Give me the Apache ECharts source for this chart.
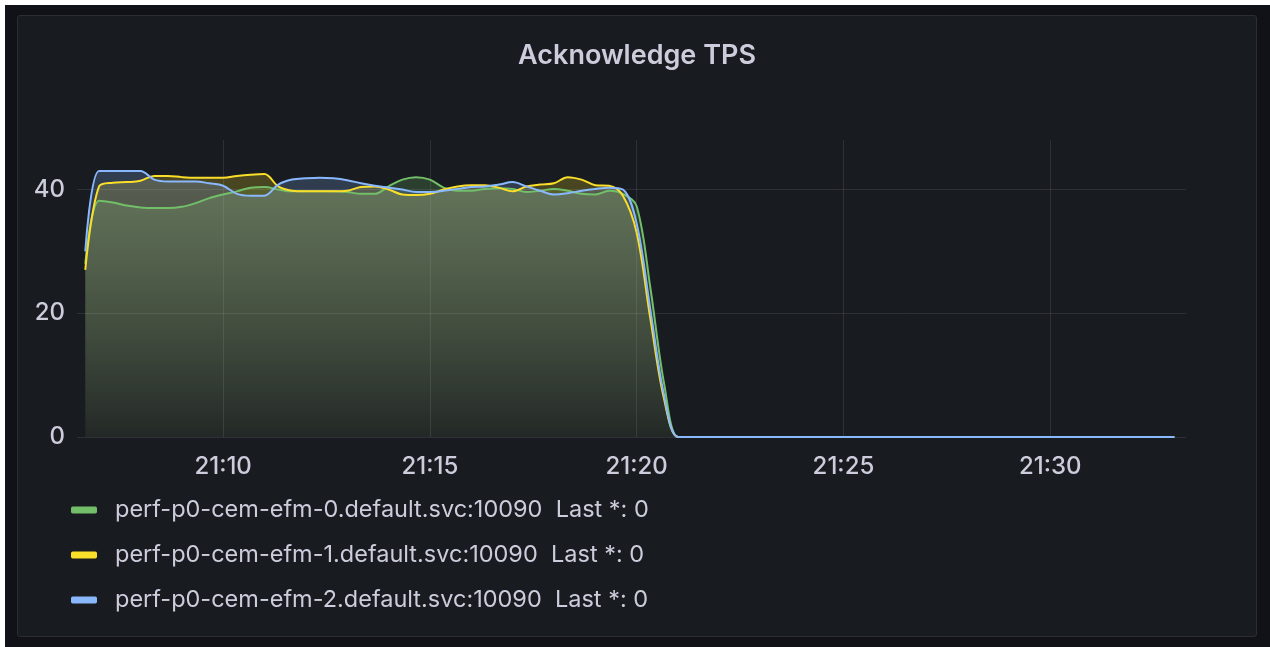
<!DOCTYPE html>
<html>
<head>
<meta charset="utf-8">
<script src="https://cdn.jsdelivr.net/npm/echarts@6/dist/echarts.min.js"></script>
<style>
  html, body { margin: 0; padding: 0; background: #ffffff; width: 1270px; height: 647px; overflow: hidden; }
  #outer { position: absolute; left: 5px; top: 5px; width: 1265px; height: 642px; background: #111217; }
  #panel { position: absolute; left: 17px; top: 15px; width: 1238px; height: 620px; background: #181b1f; border: 1px solid #2a2d32; border-radius: 3px; }
  #chart { position: absolute; left: 0; top: 0; width: 1238px; height: 620px; }
</style>
</head>
<body>
<div id="outer"></div>
<div id="panel"><div id="chart"></div></div>
<script>
// samples every 20s starting 21:06:40
const startTime = new Date(2021, 0, 1, 21, 6, 40).getTime();
const stepMs = 20000;
const seriesNames = [
  'perf-p0-cem-efm-0.default.svc:10090',
  'perf-p0-cem-efm-1.default.svc:10090',
  'perf-p0-cem-efm-2.default.svc:10090'
];
const seriesColors = ['#73BF69', '#FADE2A', '#8AB8FF'];

const efm0 = [
  28, 38.2, 37.9, 37.4, 37.1, 37.0, 37.0, 37.2, 37.8, 38.6,
  39.2, 39.7, 40.3, 40.4, 40.0, 39.7, 39.7, 39.7, 39.7, 39.6,
  39.3, 39.3, 40.5, 41.6, 42.0, 41.6, 40.3, 39.8, 39.8, 40.1,
  40.2, 40.1, 39.6, 39.8, 40.1, 39.8, 39.3, 39.2, 39.8, 39.3,
  37.3, 24, 8.5, 0, 0, 0, 0, 0, 0, 0,
  0, 0, 0, 0, 0, 0, 0, 0, 0, 0,
  0, 0, 0, 0, 0, 0, 0, 0, 0, 0,
  0, 0, 0, 0, 0, 0, 0, 0, 0, 0
];
const efm1 = [
  27, 40.5, 41.1, 41.2, 41.4, 42.2, 42.2, 42.0, 41.9, 41.9,
  41.9, 42.2, 42.4, 42.5, 40.5, 39.8, 39.7, 39.7, 39.7, 39.8,
  40.4, 40.5, 40.0, 39.2, 39.1, 39.3, 40.0, 40.5, 40.7, 40.7,
  40.3, 39.7, 40.5, 40.8, 41.0, 42.0, 41.6, 40.7, 40.6, 39.0,
  33, 19, 6, 0, 0, 0, 0, 0, 0, 0,
  0, 0, 0, 0, 0, 0, 0, 0, 0, 0,
  0, 0, 0, 0, 0, 0, 0, 0, 0, 0,
  0, 0, 0, 0, 0, 0, 0, 0, 0, 0
];
const efm2 = [
  30, 43, 43, 43, 43, 41.6, 41.3, 41.3, 41.3, 41.0,
  40.6, 39.3, 39.0, 39.0, 40.8, 41.6, 41.8, 41.9, 41.8, 41.5,
  41.0, 40.6, 40.3, 40.0, 39.6, 39.6, 39.8, 40.1, 40.4, 40.5,
  40.8, 41.2, 40.5, 39.8, 39.2, 39.4, 39.8, 40.1, 40.3, 40.0,
  34.5, 20.5, 6.6, 0, 0, 0, 0, 0, 0, 0,
  0, 0, 0, 0, 0, 0, 0, 0, 0, 0,
  0, 0, 0, 0, 0, 0, 0, 0, 0, 0,
  0, 0, 0, 0, 0, 0, 0, 0, 0, 0
];
const seriesValues = [efm0, efm1, efm2];

const xMin = new Date(2021, 0, 1, 21, 6, 28).getTime();
const xMax = new Date(2021, 0, 1, 21, 33, 17).getTime();
const yMax = 48;

const textColor = '#ccccdc';
const gridColor = 'rgba(204,204,220,0.12)';
const font = 'Inter, "Noto Sans", sans-serif';

const series = seriesNames.map((name, i) => ({
  name: name,
  type: 'line',
  smooth: 0.35,
  showSymbol: false,
  color: seriesColors[i],
  lineStyle: { width: 2, color: seriesColors[i] },
  areaStyle: {
    color: new echarts.graphic.LinearGradient(0, 0, 0, 1, [
      { offset: 0, color: echarts.color.modifyAlpha(seriesColors[i], 0.32) },
      { offset: 1, color: echarts.color.modifyAlpha(seriesColors[i], 0.04) }
    ])
  },
  data: seriesValues[i].map((v, k) => [startTime + k * stepMs, v])
}));

const lastValues = {};
seriesNames.forEach((n, i) => { lastValues[n] = seriesValues[i][seriesValues[i].length - 1]; });

const chart = echarts.init(document.getElementById('chart'));
chart.setOption({
  backgroundColor: 'transparent',
  animation: false,
  title: {
    text: 'Acknowledge TPS',
    left: 'center',
    top: 21,
    textStyle: { color: textColor, fontSize: 27, fontWeight: 600, fontFamily: font }
  },
  grid: { left: 59, right: 70, top: 124, bottom: 199 },
  xAxis: {
    type: 'time',
    min: xMin,
    max: xMax,
    splitNumber: 5,
    minInterval: 300000,
    axisLine: { show: false },
    axisTick: { show: false },
    axisLabel: {
      formatter: '{HH}:{mm}',
      color: textColor,
      fontSize: 24,
      fontWeight: 500,
      fontFamily: font,
      margin: 18,
      showMinLabel: false,
      showMaxLabel: false
    },
    splitLine: { show: true, showMinLine: false, showMaxLine: false, lineStyle: { color: gridColor, width: 1 } }
  },
  yAxis: {
    type: 'value',
    min: 0,
    max: yMax,
    interval: 20,
    axisLine: { show: false },
    axisTick: { show: false },
    axisLabel: {
      color: textColor,
      fontSize: 24,
      fontWeight: 500,
      fontFamily: font,
      margin: 12,
      showMaxLabel: false
    },
    splitLine: { show: true, showMaxLine: false, lineStyle: { color: gridColor, width: 1 } }
  },
  legend: {
    orient: 'vertical',
    left: 48,
    top: 477,
    itemGap: 21,
    itemWidth: 26,
    itemHeight: 7,
    icon: 'roundRect',
    data: seriesNames,
    formatter: name => name + '  Last *: ' + lastValues[name],
    textStyle: { color: textColor, fontSize: 23.5, fontFamily: font, padding: [0, 0, 0, 13] }
  },
  series: series
});
</script>
</body>
</html>
